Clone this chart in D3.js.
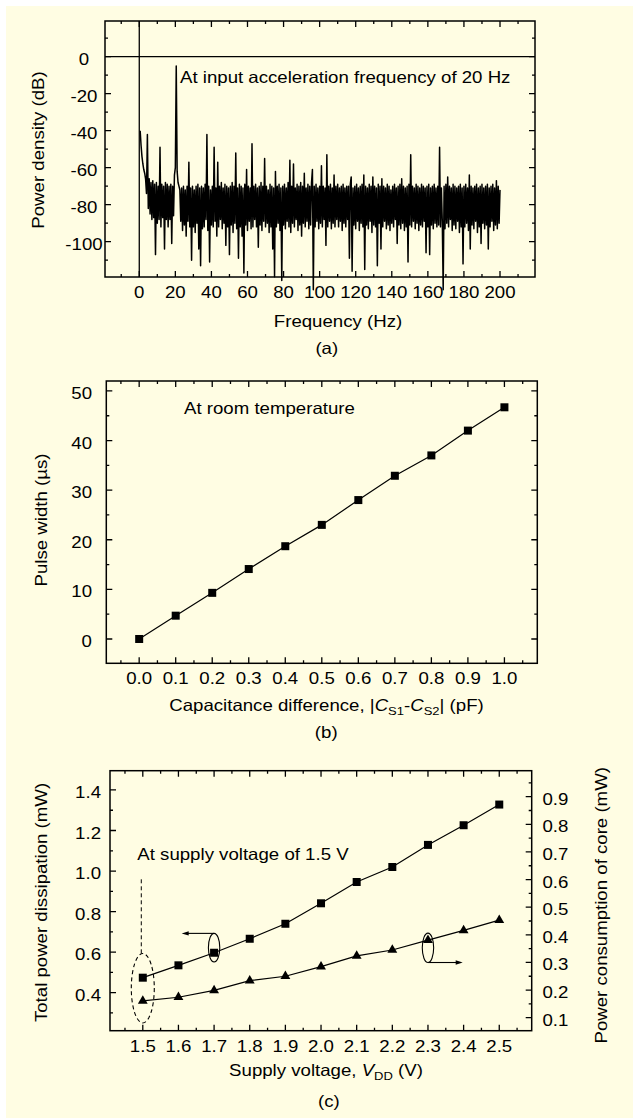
<!DOCTYPE html>
<html>
<head>
<meta charset="utf-8">
<script src="https://cdn.jsdelivr.net/npm/d3@7"></script>
<style>
  body { margin: 0; background: #fff; }
  svg text { font-family: "Liberation Sans", Arial, sans-serif; font-size: 16.5px; fill: #000; }
</style>
</head>
<body>
<div id="fig"></div>
<script>
// ---- data ----

// (a) power spectrum, one value every 0.5 Hz starting at 0.5 Hz
const specStep = 0.5;
const specDb = [
  -40,-48,-54,-58,-61,-63,-66,-74,-42,-82,
  -66,-85,-68,-88,-67,-87,-69,-107,-68,-90,
  -70,-88,-49,-92,-69,-87,-70,-104,-68,-88,
  -69,-92,-70,-88,-69,-101,-70,-86,-64,-60,
  -5,-62,-68,-70,-72,-89,-71,-94,-70,-91,
  -72,-97,-70,-89,-57,-92,-71,-110,-70,-92,
  -72,-95,-70,-90,-69,-104,-71,-113,-70,-93,
  -71,-92,-69,-88,-42,-94,-70,-111,-72,-91,
  -70,-92,-49,-89,-71,-97,-57,-92,-70,-88,
  -68,-93,-71,-90,-69,-102,-70,-92,-71,-107,
  -70,-91,-68,-95,-70,-90,-52,-93,-71,-109,
  -69,-92,-70,-97,-71,-117,-69,-91,-61,-94,
  -70,-89,-71,-93,-47,-92,-70,-88,-69,-92,
  -71,-103,-70,-91,-68,-94,-70,-89,-55,-92,
  -70,-90,-72,-95,-69,-92,-70,-104,-71,-119,
  -62,-92,-70,-90,-69,-94,-71,-121,-70,-91,
  -69,-93,-71,-89,-68,-92,-56,-95,-70,-90,
  -58,-92,-71,-88,-69,-94,-70,-91,-68,-97,
  -70,-90,-63,-92,-71,-89,-69,-93,-70,-91,
  -68,-61,-126,-70,-92,-69,-89,-71,-93,-70,
  -90,-59,-92,-70,-88,-71,-102,-53,-92,-70,
  -89,-69,-93,-71,-90,-64,-92,-70,-88,-69,
  -92,-71,-89,-70,-94,-69,-90,-71,-92,-70,
  -88,-70,-109,-69,-65,-116,-71,-91,-70,-93,
  -69,-89,-71,-94,-70,-90,-69,-92,-64,-115,
  -70,-91,-71,-93,-69,-89,-70,-95,-65,-91,
  -70,-92,-71,-113,-69,-90,-70,-104,-66,-92,
  -70,-89,-71,-93,-69,-91,-70,-94,-72,-90,
  -70,-92,-69,-88,-71,-101,-70,-91,-69,-93,
  -66,-90,-70,-94,-71,-92,-70,-111,-69,-91,
  -53,-92,-70,-89,-71,-93,-69,-90,-70,-94,
  -71,-91,-69,-92,-70,-89,-71,-106,-70,-92,
  -69,-107,-71,-91,-70,-93,-69,-90,-71,-92,
  -70,-91,-49,-92,-71,-89,-126,-70,-93,-69,
  -90,-65,-92,-70,-88,-71,-94,-69,-91,-70,
  -93,-71,-89,-70,-95,-69,-92,-71,-112,-70,
  -92,-69,-90,-71,-94,-64,-104,-70,-91,-71,
  -93,-70,-89,-69,-95,-71,-92,-70,-101,-69,
  -90,-71,-93,-70,-91,-69,-104,-71,-92,-70,
  -89,-69,-94,-71,-91,-67,-93,-70,-90,-72
];
const freqTicks = [0, 20, 40, 60, 80, 100, 120, 140, 160, 180, 200];
const dbTicks = [0, -20, -40, -60, -80, -100];

// (b) pulse width vs capacitance difference
const capDiff = [0.0, 0.1, 0.2, 0.3, 0.4, 0.5, 0.6, 0.7, 0.8, 0.9, 1.0];
const pulseWidth = [0.0, 4.7, 9.3, 14.1, 18.7, 23.0, 28.0, 32.9, 37.0, 42.0, 46.7];
const pwTicks = [0, 10, 20, 30, 40, 50];

// (c) power vs supply voltage
const supplyV = [1.5, 1.6, 1.7, 1.8, 1.9, 2.0, 2.1, 2.2, 2.3, 2.4, 2.5];
const totalPower = [0.474, 0.535, 0.597, 0.666, 0.740, 0.841, 0.946, 1.020, 1.129, 1.226, 1.328];
const corePower = [0.161, 0.174, 0.199, 0.234, 0.250, 0.285, 0.324, 0.345, 0.381, 0.416, 0.453];
const totalTicks = [0.4, 0.6, 0.8, 1.0, 1.2, 1.4];
const coreTicks = [0.1, 0.2, 0.3, 0.4, 0.5, 0.6, 0.7, 0.8, 0.9];

// ---- setup ----
const W = 633, H = 1118, SX = 1.13; // text in the figure is drawn wide
const svg = d3.select("#fig").append("svg").attr("width", W).attr("height", H);
svg.append("rect").attr("x", 6).attr("y", 6).attr("width", W - 6).attr("height", H - 6).attr("fill", "#FFFDE3");

function addText(x, y, s, anchor, rot) {
  const t = svg.append("text")
    .attr("transform", `translate(${x},${y})${rot ? ` rotate(${rot})` : ""} scale(${SX},1)`)
    .attr("text-anchor", anchor || "start");
  if (s != null) t.text(s);
  return t;
}

// box with inward ticks on all four sides
function frame(x, y, xMaj, xMin, yMaj, yMin, yR, yRMaj, yRMin) {
  const [xl, xr] = x.range(), [yb, yt] = y.range();
  const p = d3.path();
  const tx = (v, len) => { const px = x(v); p.moveTo(px, yb); p.lineTo(px, yb - len); p.moveTo(px, yt); p.lineTo(px, yt + len); };
  const tl = (v, len) => { const py = y(v); p.moveTo(xl, py); p.lineTo(xl + len, py); if (!yR) { p.moveTo(xr, py); p.lineTo(xr - len, py); } };
  const tr = (v, len) => { const py = yR(v); p.moveTo(xr, py); p.lineTo(xr - len, py); };
  xMaj.forEach(v => tx(v, 6)); xMin.forEach(v => tx(v, 3));
  yMaj.forEach(v => tl(v, 6)); yMin.forEach(v => tl(v, 3));
  if (yR) { yRMaj.forEach(v => tr(v, 6)); yRMin.forEach(v => tr(v, 3)); }
  svg.append("path").attr("d", p.toString()).attr("stroke", "#000").attr("stroke-width", 1.3).attr("fill", "none");
  svg.append("rect").attr("x", xl).attr("y", yt).attr("width", xr - xl).attr("height", yb - yt)
    .attr("fill", "none").attr("stroke", "#000").attr("stroke-width", 1.5);
}

// ================= (a) =================
const xA = d3.scaleLinear().domain([-19, 219.4]).range([105, 535]);
const yA = d3.scaleLinear().domain([-119.1, 19.3]).range([277, 21]);

frame(xA, yA, freqTicks, d3.range(-10, 215, 20), dbTicks, d3.range(-110, 15, 20));

// zero lines
svg.append("line").attr("x1", xA.range()[0]).attr("x2", xA.range()[1]).attr("y1", yA(0)).attr("y2", yA(0))
  .attr("stroke", "#000").attr("stroke-width", 1.3);
svg.append("line").attr("x1", xA(0)).attr("x2", xA(0)).attr("y1", yA.range()[0]).attr("y2", yA.range()[1])
  .attr("stroke", "#000").attr("stroke-width", 1.3);

const specLine = d3.line().x((d, i) => xA((i + 1) * specStep)).y(d => yA(d));
svg.append("path").datum(specDb).attr("d", specLine)
  .attr("fill", "none").attr("stroke", "#000").attr("stroke-width", 1.5).attr("stroke-linejoin", "round");

freqTicks.forEach(v => addText(xA(v), 297.7, String(v), "middle"));
dbTicks.forEach(v => addText(84, yA(v) + 8, String(v), "middle"));
addText(180, 82.5, "At input acceleration frequency of 20 Hz");
addText(338, 327, "Frequency (Hz)", "middle");
addText(43.5, 150, "Power density (dB)", "middle", -90);
addText(326.8, 353.5, "(a)", "middle");

// ================= (b) =================
const xB = d3.scaleLinear().domain([-0.09, 1.09]).range([106.3, 537.3]);
const yB = d3.scaleLinear().domain([-4.9, 52]).range([663.3, 381]);

frame(xB, yB, capDiff, d3.range(-0.05, 1.1, 0.1), pwTicks, d3.range(5, 50, 10));

const ptsB = capDiff.map((c, i) => [c, pulseWidth[i]]);
svg.append("path").datum(ptsB).attr("d", d3.line().x(d => xB(d[0])).y(d => yB(d[1])))
  .attr("fill", "none").attr("stroke", "#000").attr("stroke-width", 1.2);
svg.append("g").selectAll("rect").data(ptsB).join("rect")
  .attr("x", d => xB(d[0]) - 4).attr("y", d => yB(d[1]) - 4).attr("width", 8).attr("height", 8).attr("fill", "#000");

capDiff.forEach(v => addText(xB(v), yB.range()[0] + 21, d3.format(".1f")(v), "middle"));
pwTicks.forEach(v => addText(92, yB(v) + 8, String(v), "end"));
addText(184, 413.5, "At room temperature");
const tb = addText(326.5, 710.5, null, "middle");
tb.append("tspan").text("Capacitance difference, |");
tb.append("tspan").attr("font-style", "italic").text("C");
tb.append("tspan").attr("font-size", "11.5px").attr("dy", 4).text("S1");
tb.append("tspan").attr("dy", -4).text("-");
tb.append("tspan").attr("font-style", "italic").text("C");
tb.append("tspan").attr("font-size", "11.5px").attr("dy", 4).text("S2");
tb.append("tspan").attr("dy", -4).text("| (pF)");
addText(46.8, 520, "Pulse width (\u00b5s)", "middle", -90);
addText(326.2, 738.2, "(b)", "middle");

// ================= (c) =================
const xC = d3.scaleLinear().domain([1.408, 2.591]).range([110, 531.7]);
const yL = d3.scaleLinear().domain([0.2125, 1.495]).range([1030.7, 770.7]);
const yR = d3.scaleLinear().domain([0.053, 0.994]).range([1030.7, 770.7]);

frame(xC, yL, supplyV, d3.range(1.45, 2.6, 0.1), totalTicks, d3.range(0.3, 1.45, 0.2),
  yR, coreTicks, d3.range(0.15, 1.0, 0.1));

const ptsT = supplyV.map((v, i) => [v, totalPower[i]]);
const ptsC = supplyV.map((v, i) => [v, corePower[i]]);
svg.append("path").datum(ptsT).attr("d", d3.line().x(d => xC(d[0])).y(d => yL(d[1])))
  .attr("fill", "none").attr("stroke", "#000").attr("stroke-width", 1.2);
svg.append("path").datum(ptsC).attr("d", d3.line().x(d => xC(d[0])).y(d => yR(d[1])))
  .attr("fill", "none").attr("stroke", "#000").attr("stroke-width", 1.2);
svg.append("g").selectAll("rect").data(ptsT).join("rect")
  .attr("x", d => xC(d[0]) - 4).attr("y", d => yL(d[1]) - 4).attr("width", 8).attr("height", 8).attr("fill", "#000");
svg.append("g").selectAll("path").data(ptsC).join("path")
  .attr("transform", d => `translate(${xC(d[0])},${yR(d[1])})`)
  .attr("d", d3.symbol(d3.symbolTriangle, 42)).attr("fill", "#000");

supplyV.forEach(v => addText(xC(v), yL.range()[0] + 21.6, d3.format(".1f")(v), "middle"));
totalTicks.forEach(v => addText(101, yL(v) + 8, d3.format(".1f")(v), "end"));
coreTicks.forEach(v => addText(542.5, yR(v) + 8, d3.format(".1f")(v), "start"));

// annotations: dashed marker around 1.5 V, ellipses with arrows pointing to the axes
const annoEll = [
  { v: 1.5, y: yL(0.422), rx: 11.5, ry: 34.7, dash: "4,3" },
  { v: 1.7, y: yL(0.622), rx: 5.7, ry: 14.3, dash: null },
  { v: 2.3, y: yR(0.353), rx: 5.7, ry: 14.7, dash: null }
];
annoEll.forEach(e => {
  svg.append("ellipse").attr("cx", xC(e.v)).attr("cy", e.y).attr("rx", e.rx).attr("ry", e.ry)
    .attr("fill", "none").attr("stroke", "#000").attr("stroke-width", 1.1)
    .attr("stroke-dasharray", e.dash);
});
svg.append("line").attr("x1", xC(1.5) - 1.5).attr("x2", xC(1.5) - 1.5)
  .attr("y1", 879.3).attr("y2", annoEll[0].y - annoEll[0].ry)
  .attr("stroke", "#000").attr("stroke-width", 1).attr("stroke-dasharray", "4,3");

function arrow(x1, x2, y) {
  const dir = Math.sign(x2 - x1);
  svg.append("line").attr("x1", x1).attr("x2", x2 - dir * 5).attr("y1", y).attr("y2", y)
    .attr("stroke", "#000").attr("stroke-width", 1.1);
  svg.append("path").attr("d", `M${x2},${y}L${x2 - dir * 7},${y - 2.2}L${x2 - dir * 7},${y + 2.2}Z`).attr("fill", "#000");
}
arrow(xC(1.7), 181.7, annoEll[1].y - annoEll[1].ry);
arrow(xC(2.3), 462.7, annoEll[2].y + annoEll[2].ry);

addText(137.3, 860, "At supply voltage of 1.5 V");
const tc = addText(326, 1076, null, "middle");
tc.append("tspan").text("Supply voltage, ");
tc.append("tspan").attr("font-style", "italic").text("V");
tc.append("tspan").attr("font-size", "11.5px").attr("dy", 4).text("DD");
tc.append("tspan").attr("dy", -4).text(" (V)");
addText(46.8, 902.5, "Total power dissipation (mW)", "middle", -90);
addText(606.8, 905.3, "Power consumption of core (mW)", "middle", -90);
addText(328.8, 1106.5, "(c)", "middle");
</script>
</body>
</html>
